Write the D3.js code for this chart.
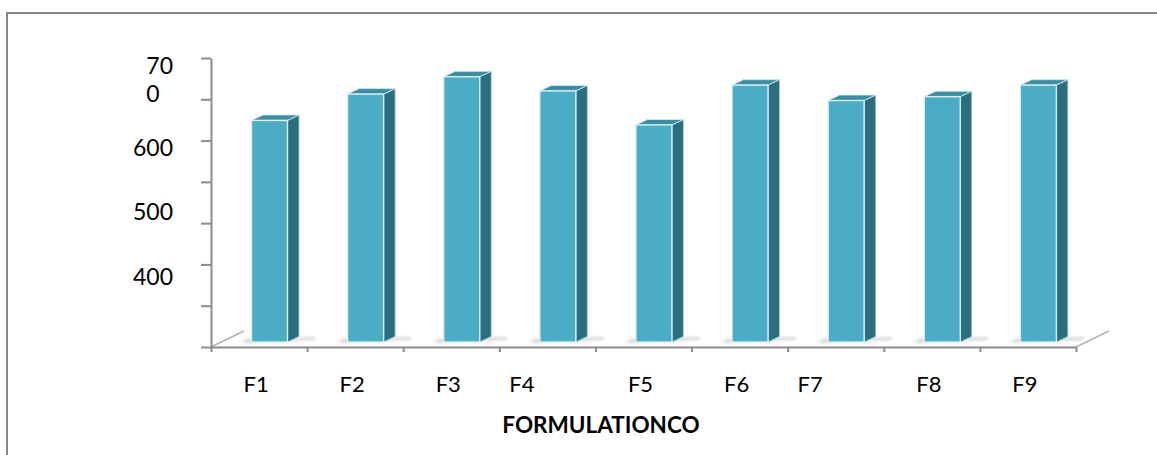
<!DOCTYPE html>
<html>
<head>
<meta charset="utf-8">
<script src="https://cdn.jsdelivr.net/npm/d3@7"></script>
<style>
  html, body { margin: 0; padding: 0; background: #ffffff; }
  svg { display: block; font-family: Lato, "Open Sans", "Noto Sans", sans-serif; }
</style>
</head>
<body>
<svg id="chart" width="1157" height="455"></svg>
<script>
// Formulation categories (trailing spaces belong to the category text itself)
const categories = ["F1", "F2", "F3", "F4        ", "F5", "F6", "F7        ", "F8", "F9"];
// Measured value for each formulation
const values = [635, 676, 703, 681, 628, 690, 666, 672, 690];
// Value-axis labels and the values they sit at (top label wraps onto two lines)
const yLabelValues = [400, 500, 600, 700];
const yLabelLines = [["400"], ["500"], ["600"], ["70", "0"]];
const axisTitle = "FORMULATIONCO";

const W = 1157, H = 455;
const svg = d3.select("#chart");

// plot frame
const plot = { left: 211, right: 1076, top: 58, bottom: 347 };
const yDomain = [290, 740];
const y = d3.scaleLinear().domain(yDomain).range([plot.bottom, plot.top]);
const x = d3.scaleBand().domain(categories).range([plot.left, plot.right]).padding(0);
const xEdge = d3.scaleLinear().domain([0, categories.length]).range([plot.left, plot.right]);

// 3-D projection offsets
const floorDepth = { dx: 33, dy: -16 };
const barDepth = { dx: 11.5, dy: -5.5 };
const barInset = 40.5, barWidth = 36, barLift = 5;

const colors = {
  front: "#4bacc6",
  side: "#2f6d7d",
  top: "#3d8ea3",
  edge: "#d9eff5",
  axis: "#8c8c8c",
  floorEdge: "#b3b3b3",
  border: "#878787"
};

const defs = svg.append("defs");
defs.append("filter").attr("id", "shadowBlur")
  .attr("x", "-20%").attr("y", "-100%").attr("width", "140%").attr("height", "300%")
  .append("feGaussianBlur").attr("stdDeviation", 1.6);
defs.append("filter").attr("id", "soft")
  .append("feGaussianBlur").attr("stdDeviation", 0.35);

// outer frame
svg.append("rect")
  .attr("x", 7).attr("y", 13)
  .attr("width", W + 20).attr("height", H + 20)
  .attr("fill", "none")
  .attr("stroke", colors.border)
  .attr("stroke-width", 2);

// floor side edges
const floor = svg.append("g").attr("stroke", colors.floorEdge).attr("stroke-width", 1.6).attr("fill", "none");
[plot.left, plot.right].forEach(px => {
  floor.append("line")
    .attr("x1", px).attr("y1", plot.bottom)
    .attr("x2", px + floorDepth.dx).attr("y2", plot.bottom + floorDepth.dy);
});

// bar shadows on the floor
const baseY = y(yDomain[0]) - barLift;
svg.append("g").attr("filter", "url(#shadowBlur)")
  .selectAll("path").data(values).join("path")
  .attr("d", (d, i) => {
    const x0 = x(categories[i]) + barInset;
    const x1 = x0 + barWidth;
    return `M${x0 - 10},${baseY + 1} L${x1 + barDepth.dx + 16},${baseY - 2}
            L${x1 + barDepth.dx + 16},${baseY - 5} L${x0 - 6},${baseY - 3} Z`;
  })
  .attr("fill", "#9a9a9a")
  .attr("opacity", 0.4);

// bars
const bars = svg.append("g").attr("filter", "url(#soft)")
  .selectAll("g").data(values).join("g");

bars.each(function (d, i) {
  const g = d3.select(this);
  const x0 = x(categories[i]) + barInset;
  const x1 = x0 + barWidth;
  const yt = y(d) - barLift;
  const { dx, dy } = barDepth;
  // side face
  g.append("path")
    .attr("d", `M${x1},${yt} L${x1 + dx},${yt + dy} L${x1 + dx},${baseY + dy} L${x1},${baseY} Z`)
    .attr("fill", colors.side)
    .attr("stroke", "#a9d3de").attr("stroke-width", 0.8);
  // top face
  g.append("path")
    .attr("d", `M${x0},${yt} L${x1},${yt} L${x1 + dx},${yt + dy} L${x0 + dx},${yt + dy} Z`)
    .attr("fill", colors.top)
    .attr("stroke", "#cfe9f0").attr("stroke-width", 0.9);
  // front face
  g.append("rect")
    .attr("x", x0).attr("y", yt)
    .attr("width", barWidth).attr("height", baseY - yt)
    .attr("fill", colors.front)
    .attr("stroke", colors.edge).attr("stroke-width", 1.4);
});

// value axis
const yTicks = d3.range(8).map(k => yDomain[0] + k * (yDomain[1] - yDomain[0]) / 7);
const yAxis = svg.append("g")
  .attr("transform", `translate(${plot.left},0)`)
  .call(d3.axisLeft(y).tickValues(yTicks).tickSize(10).tickSizeOuter(0).tickFormat(""));
yAxis.selectAll("path, line").attr("stroke", colors.axis).attr("stroke-width", 2);

// category axis
const xAxis = svg.append("g")
  .attr("transform", `translate(0,${plot.bottom})`)
  .call(d3.axisBottom(xEdge).tickValues(d3.range(categories.length + 1)).tickSize(5).tickSizeOuter(0).tickFormat(""));
xAxis.selectAll("path, line").attr("stroke", colors.axis).attr("stroke-width", 2);

// value-axis labels
const labelRight = 173, lineGap = 28;
yLabelValues.forEach((v, i) => {
  const lines = yLabelLines[i];
  const n = lines.length;
  const cy = y(v) - (n > 1 ? 4 : 0);
  let startX = null;
  lines.forEach((txt, j) => {
    const t = svg.append("text")
      .attr("y", cy + (j - (n - 1) / 2) * lineGap)
      .attr("dy", "0.36em")
      .attr("font-size", 23)
      .attr("fill", "#000")
      .text(txt);
    if (j === 0) {
      t.attr("x", labelRight).attr("text-anchor", "end");
      startX = labelRight - t.node().getComputedTextLength();
    } else {
      t.attr("x", startX).attr("text-anchor", "start");
    }
  });
});

// category labels
svg.append("g").selectAll("text").data(categories).join("text")
  .attr("x", d => x(d) + x.bandwidth() / 2 - 3)
  .attr("y", 392)
  .attr("text-anchor", "middle")
  .attr("font-size", 22)
  .attr("fill", "#000")
  .style("white-space", "pre")
  .attr("xml:space", "preserve")
  .text(d => d);

// axis title
svg.append("text")
  .attr("x", 601)
  .attr("y", 433)
  .attr("text-anchor", "middle")
  .attr("font-size", 22.5)
  .attr("font-weight", "bold")
  .attr("fill", "#000")
  .text(axisTitle);
</script>
</body>
</html>
